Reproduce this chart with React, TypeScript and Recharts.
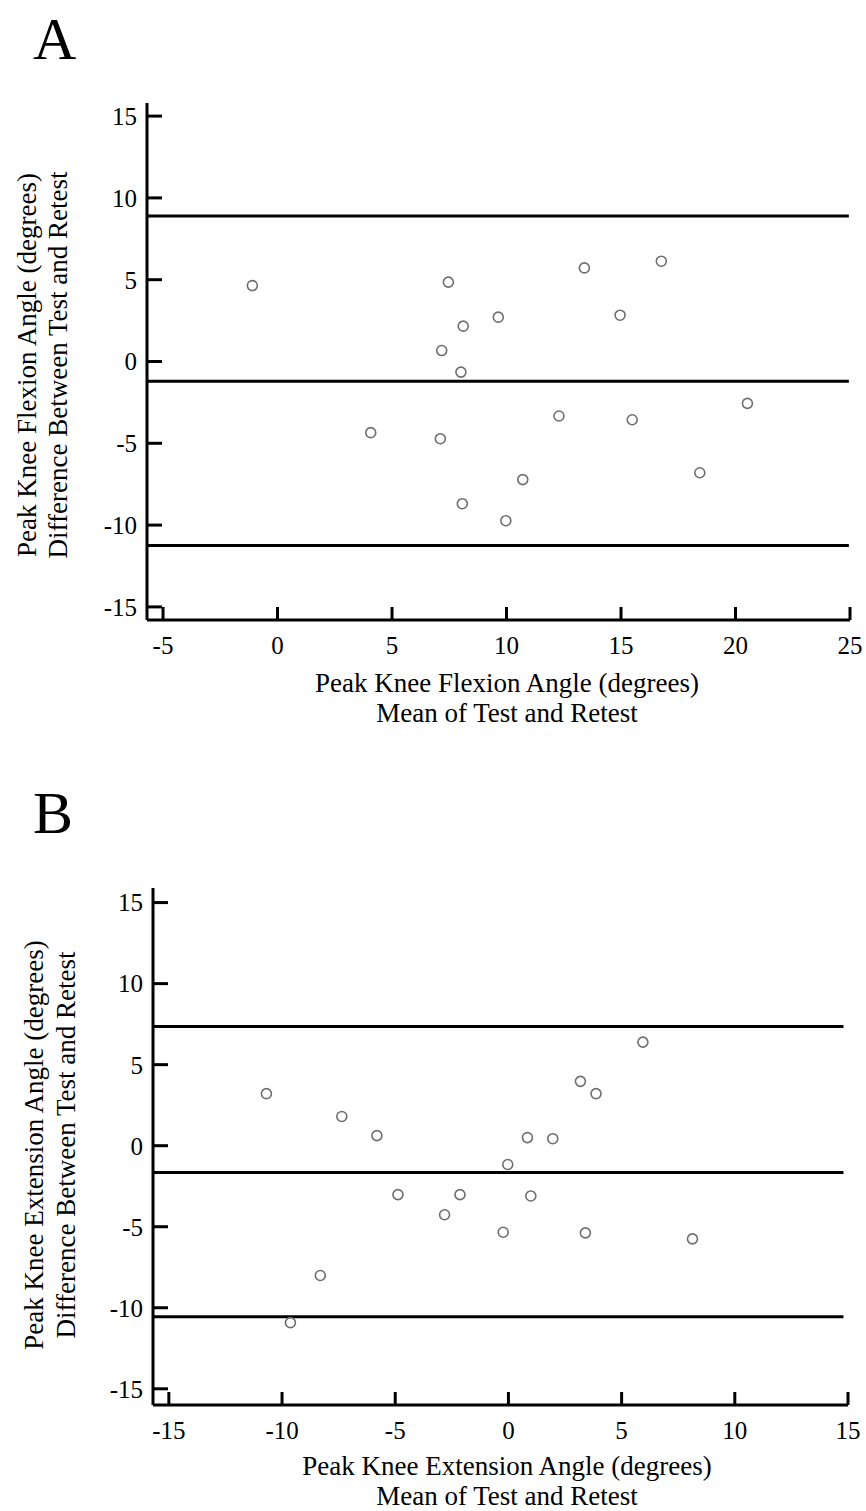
import { ScatterChart, Scatter, XAxis, YAxis, ReferenceLine } from 'recharts';

const FONT = '"Liberation Serif", "Times New Roman", serif';

// Panel A: peak knee flexion (mean of test/retest vs difference)
const flexionMean = [-1.1, 7.46, 9.64, 8.11, 7.17, 8.01, 4.07, 7.11, 10.71, 8.07, 9.97, 13.4, 16.76, 14.96, 12.29, 15.49, 20.52, 18.44];
const flexionDiff = [4.64, 4.85, 2.71, 2.16, 0.67, -0.65, -4.35, -4.72, -7.22, -8.69, -9.73, 5.72, 6.13, 2.83, -3.33, -3.56, -2.56, -6.8];
const flexionLimits = [8.9, -1.2, -11.25]; // upper limit, bias, lower limit
const flexionXTicks = [-5, 0, 5, 10, 15, 20, 25];
const flexionYTicks = [-15, -10, -5, 0, 5, 10, 15];

// Panel B: peak knee extension
const extensionMean = [-10.69, -7.36, -5.81, 3.18, 3.87, 0.84, 1.96, -0.03, -4.88, -2.14, 0.99, -2.82, -0.23, 3.4, -8.31, -9.63, 5.94, 8.13];
const extensionDiff = [3.21, 1.8, 0.62, 3.97, 3.21, 0.5, 0.43, -1.16, -3.02, -3.02, -3.1, -4.26, -5.34, -5.38, -8.01, -10.92, 6.39, -5.75];
const extensionLimits = [7.35, -1.65, -10.55];
const extensionXTicks = [-15, -10, -5, 0, 5, 10, 15];
const extensionYTicks = [-15, -10, -5, 0, 5, 10, 15];

type PanelProps = {
  top: number;
  height: number;
  letter: string;
  letterTop: number;
  mean: number[];
  diff: number[];
  limits: number[];
  xDomain: [number, number];
  yDomain: [number, number];
  xTicks: number[];
  yTicks: number[];
  lineEnd: number;
  plotTop: number;
  yAxisWidth: number;
  xAxisHeight: number;
  marginRight: number;
  yTitle: [string, string];
  yTitleX: [number, number];
  xTitle: [string, string];
  xTitleY: [number, number];
};

const circle = (p: any) => (
  <circle cx={p.cx} cy={p.cy} r={5} fill="none" stroke="#6e6e6e" strokeWidth={1.6} />
);

function Panel(props: PanelProps) {
  const {
    top, height, letter, letterTop, mean, diff, limits, xDomain, yDomain, xTicks, yTicks,
    lineEnd, plotTop, yAxisWidth, xAxisHeight, marginRight, yTitle, yTitleX, xTitle, xTitleY,
  } = props;
  const points = mean.map((m, i) => ({ x: m, y: diff[i] }));
  const cy = 365;

  return (
    <div style={{ position: 'absolute', left: 0, top, width: 866, height }}>
      <div
        style={{
          position: 'absolute',
          left: 33,
          top: letterTop,
          fontFamily: FONT,
          fontSize: 60,
          lineHeight: 1,
          color: '#000',
        }}
      >
        {letter}
      </div>
      <ScatterChart
        width={866}
        height={height}
        margin={{ top: plotTop, right: marginRight, bottom: 0, left: 0 }}
      >
        <XAxis
          type="number"
          dataKey="x"
          domain={xDomain}
          ticks={xTicks}
          interval={0}
          allowDataOverflow
          height={xAxisHeight}
          axisLine={{ stroke: '#000', strokeWidth: 3 }}
          tickLine={{ stroke: '#000', strokeWidth: 3 }}
          tickSize={-13}
          tickMargin={29}
          tick={{ fill: '#000', fontSize: 25, fontFamily: FONT }}
          label={() => (
            <g fontFamily={FONT} fontSize={27} fill="#000">
              <text x={507} y={xTitleY[0]} textAnchor="middle">{xTitle[0]}</text>
              <text x={507} y={xTitleY[1]} textAnchor="middle">{xTitle[1]}</text>
            </g>
          )}
        />
        <YAxis
          type="number"
          dataKey="y"
          domain={yDomain}
          ticks={yTicks}
          interval={0}
          allowDataOverflow
          width={yAxisWidth}
          axisLine={{ stroke: '#000', strokeWidth: 3 }}
          tickLine={{ stroke: '#000', strokeWidth: 3 }}
          tickSize={-15}
          tickMargin={25}
          tick={{ fill: '#000', fontSize: 25, fontFamily: FONT }}
          label={() => (
            <g fontFamily={FONT} fontSize={27} fill="#000">
              <text
                x={yTitleX[0]}
                y={cy}
                transform={`rotate(-90 ${yTitleX[0]} ${cy})`}
                textAnchor="middle"
              >
                {yTitle[0]}
              </text>
              <text
                x={yTitleX[1]}
                y={cy}
                transform={`rotate(-90 ${yTitleX[1]} ${cy})`}
                textAnchor="middle"
              >
                {yTitle[1]}
              </text>
            </g>
          )}
        />
        {limits.map((v, i) => (
          <ReferenceLine
            key={i}
            segment={[
              { x: xDomain[0], y: v },
              { x: lineEnd, y: v },
            ]}
            stroke="#000"
            strokeWidth={3}
          />
        ))}
        <Scatter data={points} shape={circle} isAnimationActive={false} />
      </ScatterChart>
    </div>
  );
}

export default function App() {
  return (
    <div style={{ position: 'absolute', left: 0, top: 0, width: 866, height: 1511, background: '#fff' }}>
      <Panel
        top={0}
        height={760}
        letter="A"
        letterTop={9}
        mean={flexionMean}
        diff={flexionDiff}
        limits={flexionLimits}
        xDomain={[-5.7, 25]}
        yDomain={[-15.8, 15.8]}
        xTicks={flexionXTicks}
        yTicks={flexionYTicks}
        lineEnd={24.95}
        plotTop={103}
        yAxisWidth={147}
        xAxisHeight={140}
        marginRight={16}
        yTitle={['Peak Knee Flexion Angle (degrees)', 'Difference Between Test and Retest']}
        yTitleX={[36, 67]}
        xTitle={['Peak Knee Flexion Angle (degrees)', 'Mean of Test and Retest']}
        xTitleY={[692, 722]}
      />
      <Panel
        top={780}
        height={731}
        letter="B"
        letterTop={3}
        mean={extensionMean}
        diff={extensionDiff}
        limits={extensionLimits}
        xDomain={[-15.7, 15]}
        yDomain={[-16, 15.9]}
        xTicks={extensionXTicks}
        yTicks={extensionYTicks}
        lineEnd={14.8}
        plotTop={108}
        yAxisWidth={153}
        xAxisHeight={106}
        marginRight={18}
        yTitle={['Peak Knee Extension Angle (degrees)', 'Difference Between Test and Retest']}
        yTitleX={[43, 75]}
        xTitle={['Peak Knee Extension Angle (degrees)', 'Mean of Test and Retest']}
        xTitleY={[695, 725]}
      />
    </div>
  );
}
